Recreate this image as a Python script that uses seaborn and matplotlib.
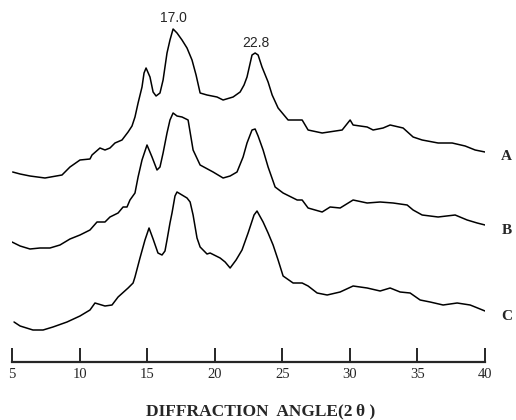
import matplotlib
matplotlib.use("Agg")
import matplotlib.pyplot as plt
import seaborn as sns
import pandas as pd

sns.set_style("white")

# 2-theta readings (degrees) and relative intensity (stacked display units)
two_theta_A = [5.05, 5.6, 6.33, 7.44, 8.7, 9.29, 10.03, 10.77, 10.92, 11.51, 11.88, 12.25, 12.62,
               13.14, 13.59, 13.88, 14.1, 14.33, 14.62, 14.77, 14.92, 15.21, 15.44, 15.66, 15.95,
               16.18, 16.47, 16.69, 16.92, 17.21, 17.58, 17.95, 18.32, 18.62, 18.92, 19.43, 20.17,
               20.62, 21.36, 21.88, 22.17, 22.39, 22.76, 22.99, 23.21, 23.5, 23.95, 24.25, 24.69,
               25.43, 26.47, 26.91, 27.95, 29.43, 30.02, 30.24, 31.28, 31.72, 32.46, 32.98, 33.94,
               34.68, 35.35, 36.53, 37.57, 38.53, 39.27, 40.0]
intensity_A = [190, 188, 186, 184, 187, 195, 202, 203, 207, 214, 212, 214, 219,
               222, 230, 236, 245, 259, 275, 289, 294, 285, 270, 266, 269,
               282, 309, 322, 333, 329, 322, 314, 302, 287, 269, 267, 265,
               262, 265, 270, 277, 285, 307, 309, 307, 295, 280, 267, 254,
               242, 242, 232, 229, 232, 242, 237, 235, 232, 234, 237, 234,
               225, 222, 219, 219, 216, 212, 210]

two_theta_B = [5.0, 5.6, 6.33, 7.07, 7.81, 8.55, 9.29, 10.03, 10.77, 11.29, 11.88, 12.25, 12.85,
               13.22, 13.51, 13.73, 14.1, 14.33, 14.62, 14.99, 15.36, 15.73, 15.95, 16.18, 16.47,
               16.69, 16.92, 17.21, 17.58, 18.03, 18.4, 18.92, 19.88, 20.62, 21.14, 21.65, 22.1,
               22.39, 22.76, 22.99, 23.21, 23.58, 23.95, 24.47, 25.06, 26.1, 26.47, 26.91, 27.95,
               28.54, 29.28, 30.24, 31.28, 32.24, 33.2, 34.24, 34.68, 35.35, 36.53, 37.79, 38.68,
               39.42, 40.0]
intensity_B = [120, 116, 113, 114, 114, 117, 123, 127, 132, 140, 140, 145, 149,
               155, 155, 162, 169, 185, 202, 217, 205, 192, 195, 209, 229,
               242, 249, 246, 245, 242, 212, 197, 190, 184, 186, 190, 205,
               219, 232, 233, 226, 212, 195, 175, 169, 162, 162, 154, 150,
               155, 154, 162, 159, 160, 159, 157, 152, 147, 145, 147, 142,
               139, 137]

two_theta_C = [5.15, 5.6, 6.55, 7.3, 8.03, 9.07, 10.03, 10.77, 11.14, 11.88, 12.4, 12.85, 13.59,
               13.96, 14.1, 14.47, 14.84, 15.14, 15.44, 15.8, 16.1, 16.32, 16.47, 16.69, 16.84,
               17.06, 17.21, 17.58, 17.95, 18.18, 18.4, 18.69, 18.92, 19.43, 19.66, 20.4, 20.77,
               21.14, 21.58, 22.02, 22.47, 22.91, 23.13, 23.58, 23.95, 24.32, 24.69, 25.06, 25.8,
               26.47, 26.91, 27.58, 28.32, 29.28, 30.24, 31.28, 32.24, 32.98, 33.72, 34.46, 35.2,
               35.94, 36.9, 37.94, 38.9, 39.27, 40.0]
intensity_C = [40, 36, 32, 32, 35, 40, 46, 52, 59, 56, 57, 65, 74,
               79, 85, 104, 122, 134, 123, 109, 107, 111, 122, 139, 149,
               166, 170, 167, 164, 160, 147, 124, 115, 108, 109, 104, 100,
               94, 102, 112, 129, 147, 151, 140, 129, 117, 102, 86, 79,
               79, 76, 69, 67, 70, 76, 74, 71, 74, 70, 69, 62,
               60, 57, 59, 57, 55, 51]

sample_labels = ["A", "B", "C"]
peak_labels = ["17.0", "22.8"]
peak_positions = [16.92, 23.06]
peak_label_heights = [344, 319]
x_ticks = [5, 10, 15, 20, 25, 30, 35, 40]
x_label = "DIFFRACTION  ANGLE(2\u2009\u03b8 )"

W, H = 516, 420
fig = plt.figure(figsize=(W / 100, H / 100), dpi=100)
ax = fig.add_axes([12 / W, (H - 362) / H, 473 / W, 362 / H])

series = [(two_theta_A, intensity_A), (two_theta_B, intensity_B), (two_theta_C, intensity_C)]
for (xs, ys), lab in zip(series, sample_labels):
    df = pd.DataFrame({"two_theta": xs, "intensity": ys})
    sns.lineplot(data=df, x="two_theta", y="intensity", ax=ax, color="black",
                 linewidth=1.1, sort=False, estimator=None, legend=False)
    ax.text(41.6, ys[-1] - 5, lab, ha="center", va="center",
            fontsize=11, fontweight="bold", family="Liberation Serif", clip_on=False)

for txt, px, py in zip(peak_labels, peak_positions, peak_label_heights):
    ax.text(px, py, txt, ha="center", va="center", fontsize=10,
            family="Liberation Sans", clip_on=False)

ax.set_xlim(5, 40)
ax.set_ylim(0, 362)
ax.set_xticks(x_ticks)
ax.set_xticklabels([str(t) for t in x_ticks], family="Liberation Serif", fontsize=10.5)
ax.set_yticks([])
ax.set_xlabel("")
ax.set_ylabel("")
for s in ["top", "right", "left"]:
    ax.spines[s].set_visible(False)
ax.spines["bottom"].set_linewidth(1.6)
ax.tick_params(axis="x", direction="in", length=10, width=1.4, pad=4, bottom=True)
ax.patch.set_alpha(0)

fig.text(261 / W, 1 - 411 / H, x_label, ha="center", va="center",
         fontsize=12.5, fontweight="bold", family=["Liberation Serif", "DejaVu Serif"])

fig.savefig("out.png", dpi=100)
